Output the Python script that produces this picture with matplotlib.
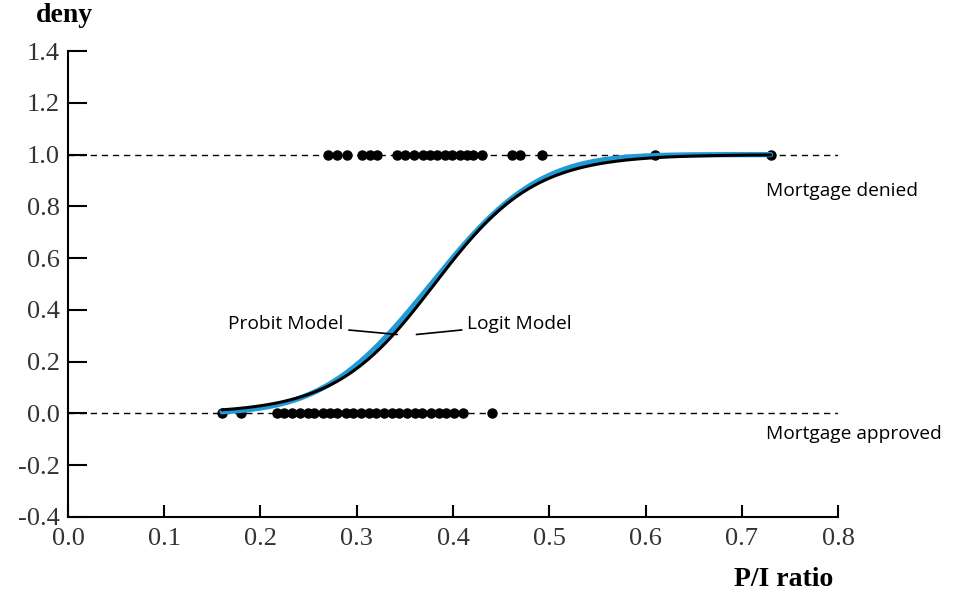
import numpy as np
import matplotlib
matplotlib.use("Agg")
import matplotlib.pyplot as plt
from math import erf, sqrt

# ---- data ----
deny_x = [0.270, 0.279, 0.290, 0.305, 0.314, 0.321, 0.342, 0.350, 0.360, 0.369,
          0.376, 0.383, 0.392, 0.399, 0.407, 0.415, 0.421, 0.430, 0.461, 0.470,
          0.492, 0.610, 0.730]
approve_x = [0.160, 0.180, 0.217, 0.224, 0.233, 0.241, 0.249, 0.256, 0.265, 0.272,
             0.280, 0.289, 0.296, 0.304, 0.313, 0.320, 0.328, 0.337, 0.344, 0.352,
             0.361, 0.368, 0.377, 0.385, 0.393, 0.401, 0.410, 0.440]
probit_coef = (-4.32, 11.45)
logit_coef = (-7.35, 19.3)
curve_range = (0.16, 0.73)
xticks = [0.0, 0.1, 0.2, 0.3, 0.4, 0.5, 0.6, 0.7, 0.8]
yticks = [-0.4, -0.2, 0.0, 0.2, 0.4, 0.6, 0.8, 1.0, 1.2, 1.4]

serif = "Liberation Serif"
sans = "Open Sans"

fig = plt.figure(figsize=(9.56, 6.01), dpi=100)
ax = fig.add_axes([0.0711, 0.1398, 0.8055, 0.7752])
ax.set_xlim(0, 0.8)
ax.set_ylim(-0.4, 1.4)

xs = np.linspace(curve_range[0], curve_range[1], 400)
phi = np.vectorize(lambda z: 0.5 * (1 + erf(z / sqrt(2))))
p_probit = phi(probit_coef[0] + probit_coef[1] * xs)
p_logit = 1 / (1 + np.exp(-(logit_coef[0] + logit_coef[1] * xs)))

ax.axhline(1.0, color="black", lw=1.0, ls=(0, (4.5, 3.5)), zorder=1)
ax.axhline(0.0, color="black", lw=1.0, ls=(0, (4.5, 3.5)), zorder=1)

ax.plot(deny_x, [1.0] * len(deny_x), "o", color="black", ms=6.5, zorder=2, clip_on=False)
ax.plot(approve_x, [0.0] * len(approve_x), "o", color="black", ms=6.5, zorder=2, clip_on=False)

ax.plot(xs, p_probit, color="#1f9ad6", lw=3.8, zorder=3, solid_capstyle="round")
ax.plot(xs, p_logit, color="black", lw=2.2, zorder=4, solid_capstyle="round")

# spines
for s in ["top", "right"]:
    ax.spines[s].set_visible(False)
for s in ["left", "bottom"]:
    ax.spines[s].set_linewidth(1.5)

ax.set_xticks(xticks)
ax.set_yticks(yticks)
ax.set_xticklabels([f"{v:.1f}" for v in xticks], fontfamily=serif, fontsize=19, color="#333333")
ax.set_yticklabels([f"{v:.1f}" for v in yticks], fontfamily=serif, fontsize=19, color="#333333")
ax.tick_params(axis="y", direction="in", length=14, width=1.5, pad=6)
ax.tick_params(axis="x", direction="in", length=9, width=1.5, pad=8)

fig.text(0.038, 0.975, "deny", fontfamily=serif, fontsize=20, fontweight="bold", ha="left", va="center")
fig.text(0.872, 0.035, "P/I ratio", fontfamily=serif, fontsize=20, fontweight="bold", ha="right", va="center")

ax.text(0.725, 0.86, "Mortgage denied", fontfamily=sans, fontsize=13.8, ha="left", va="center")
ax.text(0.725, -0.08, "Mortgage approved", fontfamily=sans, fontsize=13.8, ha="left", va="center")

ax.annotate("Probit Model", xy=(0.342, 0.305), xytext=(0.286, 0.345),
            fontfamily=sans, fontsize=13.8, ha="right", va="center",
            arrowprops=dict(arrowstyle="-", color="black", lw=1.2, shrinkA=2, shrinkB=0))
ax.annotate("Logit Model", xy=(0.362, 0.305), xytext=(0.415, 0.345),
            fontfamily=sans, fontsize=13.8, ha="left", va="center",
            arrowprops=dict(arrowstyle="-", color="black", lw=1.2, shrinkA=2, shrinkB=0))

fig.savefig("out.png", dpi=100)
